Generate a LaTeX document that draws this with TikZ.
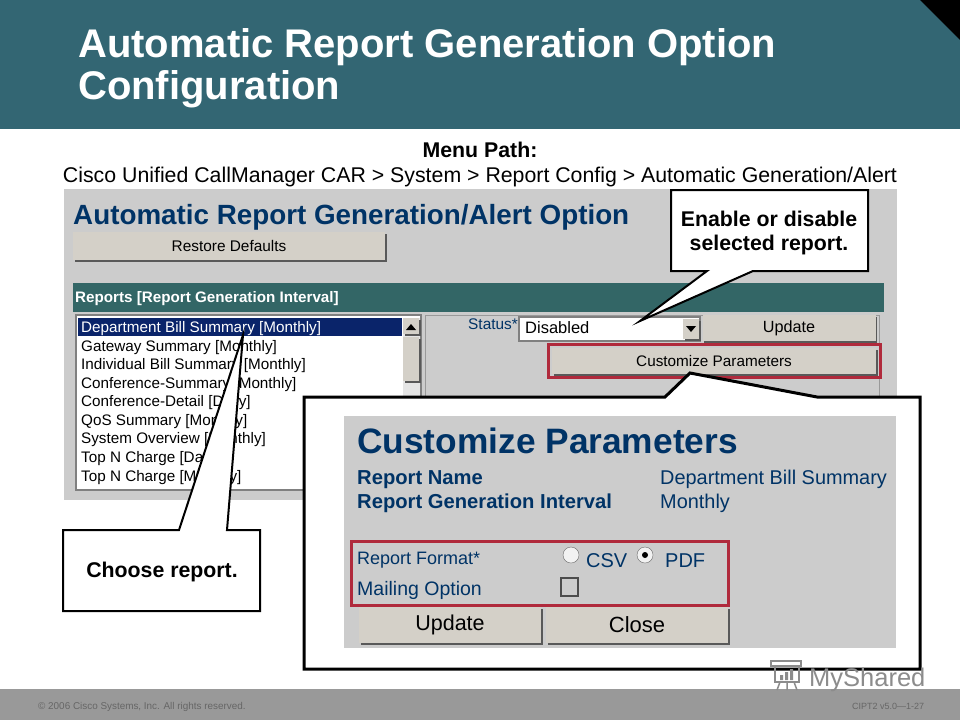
\documentclass[tikz,border=0pt]{standalone}
\usepackage{fontspec}
\setmainfont{Liberation Sans}
\usetikzlibrary{shadows}
\definecolor{teal1}{HTML}{336673}
\definecolor{bar1}{HTML}{336666}
\definecolor{navy1}{HTML}{003366}
\definecolor{sel1}{HTML}{0A246A}
\definecolor{pane1}{HTML}{CCCCCC}
\definecolor{btn1}{HTML}{D4D0C8}
\definecolor{red1}{HTML}{B02A3C}
\definecolor{foot1}{HTML}{999999}
\definecolor{foot2}{HTML}{666666}
\newcommand{\sz}[1]{\fontsize{#1}{#1}\selectfont}
\begin{document}
\begin{tikzpicture}[x=1pt, y=-1pt,
  lbl/.style = {anchor=base west, inner sep=0pt},
  mid/.style = {anchor=base, inner sep=0pt},
  btn/.style = {fill=btn1, inner sep=0pt, general shadow={fill=black!65, shadow xshift=1.5pt, shadow yshift=-1.5pt}},
  callout/.style = {draw=black, fill=white, line width=2pt, line join=miter},
  redbox/.style = {draw=red1, line width=3pt}]
\useasboundingbox (0,0) rectangle (960,720);
\fill[white] (0,0) rectangle (960,720);

\fill[teal1] (0,0) rectangle (960,129);
\fill[black] (920,0) -- (960,0) -- (960,40) -- cycle;
\node[lbl, white, font=\bfseries\sz{40}] (title1) at (78,57) {Automatic Report Generation Option};
\node[lbl, white, font=\bfseries\sz{40}] (title2) at (78,99) {Configuration};

\node[mid, font=\bfseries\sz{21.3}] (path1) at (480,157) {Menu Path:};
\node[mid, font=\sz{21.3}] (path2) at (480,182) {Cisco Unified CallManager CAR > System > Report Config > Automatic Generation/Alert};

\fill[pane1] (64,189) rectangle (897,500);
\node[lbl, navy1, font=\bfseries\sz{27.8}] (head) at (73,224) {Automatic Report Generation/Alert Option};
\node[btn, font=\sz{15.4}, minimum width=312pt, minimum height=28pt] (restore) at (229,246) {Restore Defaults};
\fill[bar1] (73,283) rectangle (884,312);
\node[lbl, white, font=\bfseries\sz{15.2}] (reports) at (75,302) {Reports [Report Generation Interval]};

\draw[black!50, line width=2pt, fill=white] (76,315) rectangle (421,490);
\fill[sel1] (78,318) rectangle (402,336);
\node[lbl, white, font=\sz{15.25}] (item1) at (81,332) {Department Bill Summary [Monthly]};
\node[lbl, font=\sz{15.25}] (item2) at (81,351) {Gateway Summary [Monthly]};
\node[lbl, font=\sz{15.25}] (item3) at (81,369) {Individual Bill Summary [Monthly]};
\node[lbl, font=\sz{15.25}] (item4) at (81,388) {Conference-Summary [Monthly]};
\node[lbl, font=\sz{15.25}] (item5) at (81,406) {Conference-Detail [Daily]};
\node[lbl, font=\sz{15.25}] (item6) at (81,425) {QoS Summary [Monthly]};
\node[lbl, font=\sz{15.25}] (item7) at (81,443) {System Overview [Monthly]};
\node[lbl, font=\sz{15.25}] (item8) at (81,462) {Top N Charge [Daily]};
\node[lbl, font=\sz{15.25}] (item9) at (81,481) {Top N Charge [Monthly]};
\fill[black!10] (403,318) rectangle (420,489);
\node[btn, minimum width=16pt, minimum height=16pt] (up) at (411,326) {};
\fill[black] (406,330) -- (416,330) -- (411,324) -- cycle;
\node[btn, minimum width=16pt, minimum height=44pt] (thumb) at (411,359) {};

\draw[black!40] (425,315) rectangle (879,500);
\node[lbl, navy1, font=\sz{15.4}] (status) at (468,329) {Status*};
\draw[black!50, line width=1.5pt, fill=white] (519,317) rectangle (700,341);
\node[lbl, font=\sz{16.5}] (disabled) at (525,333) {Disabled};
\node[btn, minimum width=16pt, minimum height=20pt] (drop) at (691,329) {};
\fill[black] (686,326) -- (696,326) -- (691,332) -- cycle;
\node[btn, font=\sz{16.2}, minimum width=173pt, minimum height=26pt] (update) at (789,328) {Update};
\node[btn, font=\sz{15.3}, minimum width=324pt, minimum height=26pt] (custom) at (714,361) {Customize Parameters};
\draw[redbox] (548,344) rectangle (880,377);

\draw[callout] (671,190) -- (868,190) -- (868,271) -- (753,271) -- (640,321) -- (707,271) -- (671,271) -- cycle;
\node[mid, font=\bfseries\sz{21.3}] (enable1) at (769,226) {Enable or disable};
\node[mid, font=\bfseries\sz{21.3}] (enable2) at (769,250) {selected report.};

\draw[callout] (63,530) -- (179,530) -- (243,335) -- (227,530) -- (260,530) -- (260,611) -- (63,611) -- cycle;
\node[mid, font=\bfseries\sz{21.3}] (choose) at (162,577) {Choose report.};

\draw[callout, line width=3pt] (304,397) -- (665,397) -- (690,373) -- (817,397) -- (920,397) -- (920,669) -- (304,669) -- cycle;
\fill[pane1] (344,416) rectangle (896,648);
\node[lbl, navy1, font=\bfseries\sz{35.3}] (cust) at (357,453) {Customize Parameters};
\node[lbl, navy1, font=\bfseries\sz{20.2}] (rname) at (357,484) {Report Name};
\node[lbl, navy1, font=\bfseries\sz{20.2}] (rint) at (357,508) {Report Generation Interval};
\node[lbl, navy1, font=\sz{19.9}] (rdept) at (660,484) {Department Bill Summary};
\node[lbl, navy1, font=\sz{19.9}] (rmon) at (660,508) {Monthly};
\draw[redbox] (351,541) rectangle (728,605);
\node[lbl, navy1, font=\sz{18}] (rfmt) at (357,564) {Report Format*};
\node[lbl, navy1, font=\sz{19.5}] (rmail) at (357,595) {Mailing Option};
\node[lbl, navy1, font=\sz{20}] (csv) at (586,567) {CSV};
\node[lbl, navy1, font=\sz{20}] (pdf) at (665,567) {PDF};
\filldraw[draw=black!60, fill=black!5] (571,555) circle (8);
\filldraw[draw=black!60, fill=black!5] (645,555) circle (8);
\fill[black] (645,555) circle (3);
\draw[black!70, line width=1.5pt, fill=pane1] (561,578) rectangle (578,596);
\node[btn, font=\sz{21.5}, minimum width=182pt, minimum height=36pt] (rupdate) at (450,625) {Update};
\node[btn, font=\sz{22}, minimum width=182pt, minimum height=36pt] (rclose) at (637,625) {Close};

\fill[foot1] (0,689) rectangle (960,720);
\node[lbl, foot2, font=\sz{9.9}] (copy) at (38,709) {© 2006 Cisco Systems, Inc. All rights reserved.};
\node[lbl, foot2, font=\sz{9}] (cipt) at (852,709) {CIPT2 v5.0—1-27};

\node[lbl, black!45, font=\sz{25.5}] (mark) at (809,686) {MyShared};
\draw[black!45, line width=1.5pt] (771,661) rectangle (801,666);
\draw[black!45, line width=1.5pt] (775,666) rectangle (799,682);
\draw[black!45, line width=1.5pt] (780,682) -- (777,690) (787,682) -- (787,690) (794,682) -- (797,690);
\fill[black!45] (780,675) rectangle (783,680) (785,672) rectangle (788,680) (790,669) rectangle (793,680);
\end{tikzpicture}
\end{document}
